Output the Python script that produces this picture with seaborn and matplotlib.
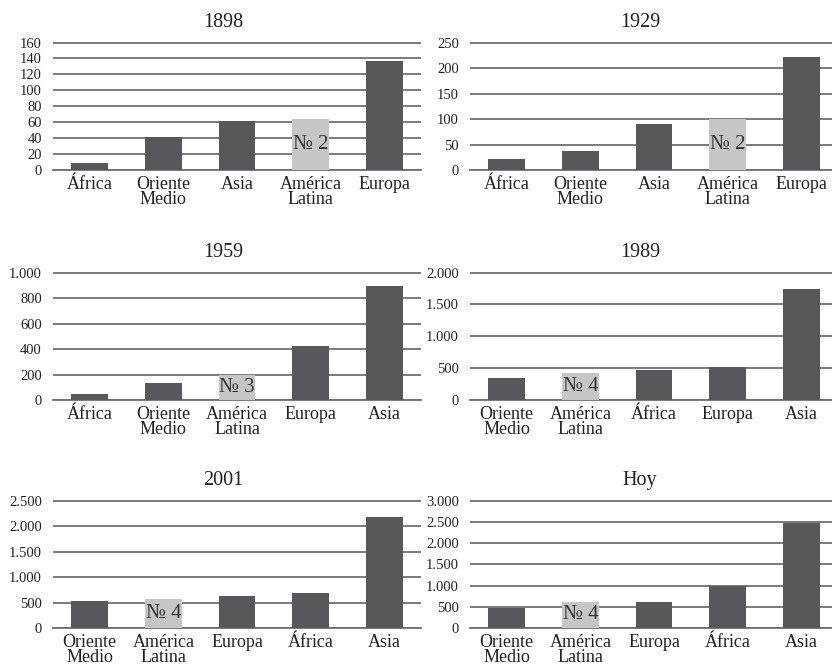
import numpy as np
import matplotlib
matplotlib.use("Agg")
import matplotlib.pyplot as plt
import seaborn as sns

# ====================================================
# Six small bar panels: one per year, América Latina highlighted
# ====================================================

titles = ["1898", "1929", "1959", "1989", "2001", "Hoy"]

cats_1898 = ["África", "Oriente\nMedio", "Asia", "América\nLatina", "Europa"]
vals_1898 = [9, 41, 62, 64, 137]

cats_1929 = ["África", "Oriente\nMedio", "Asia", "América\nLatina", "Europa"]
vals_1929 = [21, 38, 91, 100, 221]

cats_1959 = ["África", "Oriente\nMedio", "América\nLatina", "Europa", "Asia"]
vals_1959 = [50, 133, 200, 423, 898]

cats_1989 = ["Oriente\nMedio", "América\nLatina", "África", "Europa", "Asia"]
vals_1989 = [345, 423, 470, 517, 1739]

cats_2001 = ["Oriente\nMedio", "América\nLatina", "Europa", "África", "Asia"]
vals_2001 = [520, 560, 620, 680, 2180]

cats_hoy = ["Oriente\nMedio", "América\nLatina", "Europa", "África", "Asia"]
vals_hoy = [480, 620, 610, 1000, 2480]

rank_labels = ["№ 2", "№ 2", "№ 3", "№ 4", "№ 4", "№ 4"]
y_tops = [160, 250, 1000, 2000, 2500, 3000]
y_steps = [20, 50, 200, 500, 500, 500]

all_cats = [cats_1898, cats_1929, cats_1959, cats_1989, cats_2001, cats_hoy]
all_vals = [vals_1898, vals_1929, vals_1959, vals_1989, vals_2001, vals_hoy]
highlight = "América\nLatina"

# =======================================
# Style
# =======================================
sns.set_style("white")
plt.rcParams['font.family'] = ['Liberation Serif', 'DejaVu Serif']

dark = "#58585a"
light = "#c6c6c6"
grid_col = "#707070"

W, H = 832, 664
fig = plt.figure(figsize=(W / 100, H / 100), dpi=100)

# axes boxes in pixels: (left, right) and (top, bottom)
col_x = [(53, 421), (470, 838)]
row_y = [(42, 170), (272, 400), (500, 628)]

for i, (title, cats, vals) in enumerate(zip(titles, all_cats, all_vals)):
    r, c = divmod(i, 2)
    x0, x1 = col_x[c]
    y0, y1 = row_y[r]
    ax = fig.add_axes([x0 / W, 1 - y1 / H, (x1 - x0) / W, (y1 - y0) / H])

    palette = {k: (light if k == highlight else dark) for k in cats}
    sns.barplot(x=cats, y=vals, hue=cats, palette=palette, legend=False,
                width=0.5, saturation=1, linewidth=0, ax=ax, zorder=3)

    top = y_tops[i]
    ticks = np.arange(0, top + 1, y_steps[i])
    ax.set_ylim(0, top * 1.004)
    ax.set_xlim(-0.5, len(cats) - 0.5)
    ax.set_yticks(ticks)
    ax.set_yticklabels([f"{t:,.0f}".replace(",", ".") for t in ticks])
    ax.yaxis.grid(True, color=grid_col, linewidth=1.3)
    ax.set_axisbelow(True)
    for s in ["top", "right", "left"]:
        ax.spines[s].set_visible(False)
    ax.spines["bottom"].set_color(grid_col)
    ax.spines["bottom"].set_linewidth(1.3)
    ax.tick_params(axis="y", length=0, pad=8, labelsize=10.5, colors="#222222")
    ax.tick_params(axis="x", length=0, pad=4, labelsize=13, colors="#222222")
    for lab in ax.get_xticklabels():
        lab.set_linespacing(0.85)
    ax.set_xlabel("")
    ax.set_ylabel("")

    # label inside the highlighted bar
    k = cats.index(highlight)
    ax.text(k, vals[k] / 2, rank_labels[i], ha="center", va="center",
            fontsize=15, color="#333333", zorder=4)

    # title, centred over the panel including its tick labels
    ax.text(0.462, 1.0 + 10 / (y1 - y0), title, transform=ax.transAxes,
            ha="center", va="bottom", fontsize=14.5, color="#222222")

fig.savefig("out.png", dpi=100)
